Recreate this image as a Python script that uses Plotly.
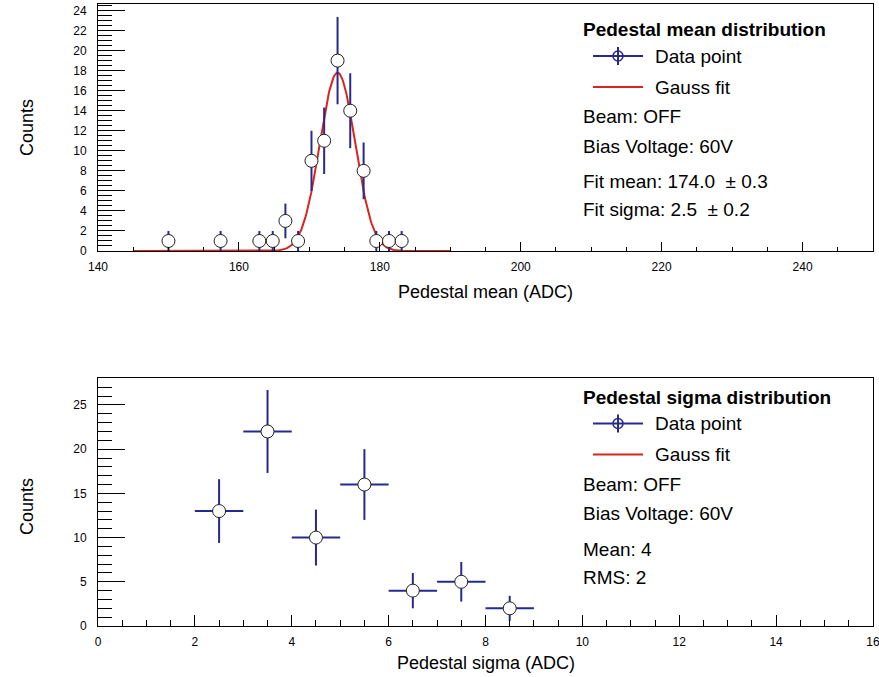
import numpy as np
import plotly.graph_objects as go

W, H = 879, 677

# ---------------- data ----------------
mean_x = [150.0, 157.4, 162.9, 164.8, 166.6, 168.4, 170.3, 172.1, 174.0, 175.8, 177.7, 179.5, 181.3, 183.1]
mean_counts = [1, 1, 1, 1, 3, 1, 9, 11, 19, 14, 8, 1, 1, 1]
mean_err = list(np.sqrt(mean_counts))

fit_amp = 17.8
fit_mean = 174.0
fit_sigma = 2.5
fit_range = [145.0, 190.0]

sigma_x = [2.5, 3.5, 4.5, 5.5, 6.5, 7.5, 8.5]
sigma_counts = [13, 22, 10, 16, 4, 5, 2]
sigma_xerr = [0.5] * 7
sigma_err = list(np.sqrt(sigma_counts))

top_legend = ["Pedestal mean distribution", "Data point", "Gauss fit", "Beam: OFF",
              "Bias Voltage: 60V", "Fit mean: 174.0  \u00b1 0.3", "Fit sigma: 2.5  \u00b1 0.2"]
bot_legend = ["Pedestal sigma distribution", "Data point", "Gauss fit", "Beam: OFF",
              "Bias Voltage: 60V", "Mean: 4", "RMS: 2"]

BLUE = "#262a8c"
RED = "#d8261f"
FONT = "Liberation Sans, Arial, Helvetica, sans-serif"

fit_x = np.linspace(fit_range[0], fit_range[1], 400)
fit_y = fit_amp * np.exp(-0.5 * ((fit_x - fit_mean) / fit_sigma) ** 2)

fig = go.Figure()

fig.add_trace(go.Scatter(x=fit_x, y=fit_y, mode="lines", line=dict(color=RED, width=2),
                         xaxis="x", yaxis="y", showlegend=False, hoverinfo="skip"))
fig.add_trace(go.Scatter(x=mean_x, y=mean_counts, mode="markers",
                         marker=dict(symbol="circle", size=13, color="white",
                                     line=dict(color="#222222", width=1)),
                         error_y=dict(type="data", array=mean_err, color=BLUE, thickness=2, width=0),
                         xaxis="x", yaxis="y", showlegend=False))

fig.add_trace(go.Scatter(x=sigma_x, y=sigma_counts, mode="markers",
                         marker=dict(symbol="circle", size=13, color="white",
                                     line=dict(color="#222222", width=1)),
                         error_y=dict(type="data", array=sigma_err, color=BLUE, thickness=2, width=0),
                         error_x=dict(type="data", array=sigma_xerr, color=BLUE, thickness=2, width=0),
                         xaxis="x2", yaxis="y2", showlegend=False))

def px_x(p):
    return p / W

def px_y(p):
    return 1 - p / H

x_dom = [px_x(98), px_x(873)]
y1_dom = [px_y(251), px_y(4)]
y2_dom = [px_y(626), px_y(378)]

axis_common = dict(showline=True, mirror=True, linecolor="black", linewidth=1,
                   showgrid=False, zeroline=False, ticks="inside", tickcolor="black",
                   automargin=False, ticklabeloverflow="allow",
                   tickfont=dict(family=FONT, size=12, color="black"))

fig.update_layout(
    template="none",
    width=W, height=H, margin=dict(l=0, r=0, t=0, b=0, pad=0),
    paper_bgcolor="white", plot_bgcolor="white",
    font=dict(family=FONT, color="black"),
    xaxis=dict(domain=x_dom, anchor="y", range=[140, 250], tick0=140, dtick=20, ticklen=9,
               ticklabelstandoff=5,
               minor=dict(dtick=5, ticklen=4, ticks="inside", tickcolor="black"), **axis_common),
    yaxis=dict(domain=y1_dom, anchor="x", range=[0, 24.65], tick0=0, dtick=2, ticklen=27,
               ticklabelstandoff=8,
               minor=dict(dtick=0.5, ticklen=14, ticks="inside", tickcolor="black"), **axis_common),
    xaxis2=dict(domain=x_dom, anchor="y2", range=[0, 16.0005], tick0=0, dtick=2, ticklen=11,
                ticklabelstandoff=5,
                minor=dict(dtick=0.5, ticklen=6, ticks="inside", tickcolor="black"), **axis_common),
    yaxis2=dict(domain=y2_dom, anchor="x2", range=[0, 28.05], tick0=0, dtick=5, ticklen=27,
                ticklabelstandoff=8,
                minor=dict(dtick=1, ticklen=14, ticks="inside", tickcolor="black"), **axis_common),
)

annotations = []
shapes = []

def text(px, py, s, size=19, bold=False, anchor="left", angle=0):
    annotations.append(dict(x=px_x(px), y=px_y(py), xref="paper", yref="paper",
                            text=("<b>%s</b>" % s) if bold else s, showarrow=False,
                            xanchor=anchor, yanchor="middle", textangle=angle,
                            font=dict(family=FONT, size=size, color="black")))

# axis titles
text(27, 128, "Counts", size=18, anchor="center", angle=-90)
text(27, 507, "Counts", size=18, anchor="center", angle=-90)
text(485.5, 292, "Pedestal mean (ADC)", size=18, anchor="center")
text(485.5, 663, "Pedestal sigma (ADC)", size=18, anchor="center")

def legend_block(labels, dy):
    ys = [30, 56, 87, 117, 146, 182, 210]
    text(581, ys[0] + dy, labels[0], bold=True)
    text(653, ys[1] + dy, labels[1])
    text(653, ys[2] + dy, labels[2])
    for lab, yy in zip(labels[3:], ys[3:]):
        text(581, yy + dy, lab)
    # data point symbol
    yc = ys[1] + dy
    shapes.append(dict(type="line", xref="paper", yref="paper", x0=px_x(593), x1=px_x(643),
                       y0=px_y(yc), y1=px_y(yc), line=dict(color=BLUE, width=2)))
    shapes.append(dict(type="line", xref="paper", yref="paper", x0=px_x(618), x1=px_x(618),
                       y0=px_y(yc - 9), y1=px_y(yc + 9), line=dict(color=BLUE, width=2)))
    shapes.append(dict(type="circle", xref="paper", yref="paper", x0=px_x(613), x1=px_x(623),
                       y0=px_y(yc - 5), y1=px_y(yc + 5), line=dict(color=BLUE, width=1.5),
                       fillcolor="rgba(0,0,0,0)"))
    yg = ys[2] + dy
    shapes.append(dict(type="line", xref="paper", yref="paper", x0=px_x(593), x1=px_x(643),
                       y0=px_y(yg), y1=px_y(yg), line=dict(color=RED, width=2)))

legend_block(top_legend, 0)
legend_block(bot_legend, 367.5)

fig.update_layout(annotations=annotations, shapes=shapes)

fig.write_html("out.html")
